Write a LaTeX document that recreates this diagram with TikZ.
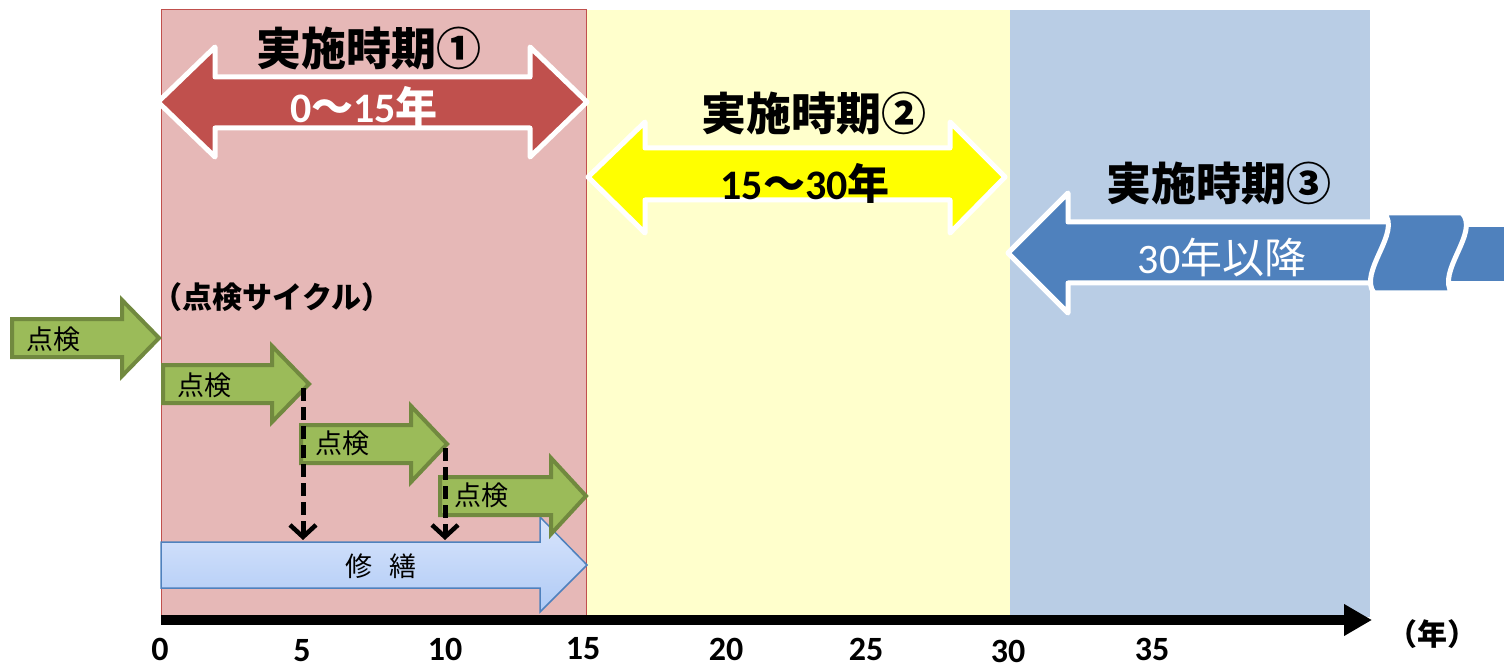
\documentclass[tikz,border=0pt]{standalone}
\usepackage{fontspec}
\setmainfont{Carlito}
\newfontfamily\jp{Noto Sans CJK JP}
\usetikzlibrary{arrows.meta}
\definecolor{pinkbg}{HTML}{E6B8B7}
\definecolor{pinkline}{HTML}{C0504D}
\definecolor{yellowbg}{HTML}{FFFFCC}
\definecolor{bluebg}{HTML}{B9CDE5}
\definecolor{redarrow}{HTML}{C0504D}
\definecolor{yelarrow}{HTML}{FFFF00}
\definecolor{bluearrow}{HTML}{4F81BD}
\definecolor{grnfill}{HTML}{9BBB59}
\definecolor{grnline}{HTML}{71893F}
\definecolor{reptop}{HTML}{D9E5FC}
\definecolor{repbot}{HTML}{AFCAF5}
\definecolor{repline}{HTML}{4F81BD}
\tikzset{
  dblarrow/.style={draw=white,line width=5pt,line join=round},
  grnarrow/.style={fill=grnfill,draw=grnline,line width=4pt,line join=miter},
  gtxt/.style={font=\jp\fontsize{27}{30}\selectfont,inner sep=0pt},
  title/.style={font=\jp\bfseries\fontsize{45}{48}\selectfont,inner sep=0pt},
  lbl/.style={font=\bfseries\fontsize{42}{46}\selectfont,inner sep=0pt},
  tick/.style={font=\bfseries\fontsize{34}{38}\selectfont,inner sep=0pt},
  dashconn/.style={line width=5pt,dash pattern=on 13pt off 6pt,-{Straight Barb[length=12pt,width=26pt,line width=4.5pt]}},
}
\newcommand\greenarrow[4]{%
  \path[grnarrow] (#1,#4-19) -- (#2,#4-19) -- (#2,#4-38) -- (#3,#4) -- (#2,#4+38) -- (#2,#4+19) -- (#1,#4+19) -- cycle;
}
\begin{document}
\begin{tikzpicture}[x=1pt,y=-1pt]
\useasboundingbox (0,0) rectangle (1504,668);
% background bands
\fill[yellowbg] (586,10) rectangle (1010,617);
\fill[bluebg] (1010,10) rectangle (1370,617);
\path[fill=pinkbg,draw=pinkline,line width=1pt] (161,10) rectangle (586,617);

% red double arrow
\path[dblarrow,fill=redarrow] (158,102) -- (215,47) -- (215,77) -- (530,77) -- (530,47) -- (587,102) -- (530,157) -- (530,128) -- (215,128) -- (215,157) -- cycle;
\node[title] (t1) at (369,48) {実施時期①};
\node[lbl,text=white] (l1) at (364,106) {0{\jp ～}15{\jp 年}};

% yellow double arrow
\path[dblarrow,fill=yelarrow] (588,177) -- (645,122) -- (645,148) -- (950,148) -- (950,122) -- (1005,177) -- (950,233) -- (950,200) -- (645,200) -- (645,233) -- cycle;
\node[title] (t2) at (814,113) {実施時期②};
\node[lbl] (l2) at (805,183) {15{\jp ～}30{\jp 年}};

% blue left arrow with wave
\fill[bluearrow] (1450,227) rectangle (1504,281);
\path[dblarrow,fill=bluearrow] (1008,253) -- (1068,193) -- (1068,222) -- (1395,222) -- (1385,283) -- (1068,283) -- (1068,313) -- cycle;
\path[dblarrow,fill=bluearrow] (1384,213) -- (1462,213)
   .. controls (1480,232) and (1436,272) .. (1452,293) -- (1374,293)
   .. controls (1358,272) and (1402,232) .. (1384,213) -- cycle;
\node[title] (t3) at (1219,183) {実施時期③};
\node[font=\fontsize{42}{46}\selectfont,inner sep=0pt,text=white] (l3) at (1222,258) {30{\jp 年以降}};

% inspection cycle
\node[font=\jp\bfseries\fontsize{30}{34}\selectfont,inner sep=0pt] (cyc) at (272,297) {（点検サイクル）};

% repair arrow
\path[top color=reptop,bottom color=repbot,draw=repline,line width=1.5pt,line join=miter]
  (161,542) -- (540,542) -- (540,517) -- (587,565) -- (540,612) -- (540,588) -- (161,588) -- cycle;
\node[gtxt] (rep) at (381,566) {修\hspace{0.6em}繕};

% green inspection arrows
\greenarrow{12}{122}{159}{338}
\node[gtxt] (g1) at (53,339) {点検};
\greenarrow{163}{272}{309}{384}
\node[gtxt] (g2) at (204,385) {点検};
\greenarrow{301}{411}{447}{444}
\node[gtxt] (g3) at (342,443) {点検};
\greenarrow{440}{551}{586}{496}
\node[gtxt] (g4) at (481,495) {点検};

% dashed connectors
\coordinate (d1s) at (303,388);
\coordinate (d1e) at (303,540);
\coordinate (d2s) at (445,448);
\coordinate (d2e) at (445,540);
\draw[dashconn] (d1s) -- (d1e);
\draw[dashconn] (d2s) -- (d2e);

% axis
\coordinate (ax0) at (161,620);
\coordinate (ax1) at (1372,620);
\draw[line width=10pt,-{Triangle[length=28pt,width=30pt]}] (ax0) -- (ax1);

\node[tick] (n0) at (160,649) {0};
\node[tick] (n5) at (302,651) {5};
\node[tick] (n10) at (445,649) {10};
\node[tick] (n15) at (583,649) {15};
\node[tick] (n20) at (726,649) {20};
\node[tick] (n25) at (866,649) {25};
\node[tick] (n30) at (1008,651) {30};
\node[tick] (n35) at (1152,649) {35};
\node[font=\jp\bfseries\fontsize{30}{34}\selectfont,inner sep=0pt] (unit) at (1432,634) {（年）};
\end{tikzpicture}
\end{document}
